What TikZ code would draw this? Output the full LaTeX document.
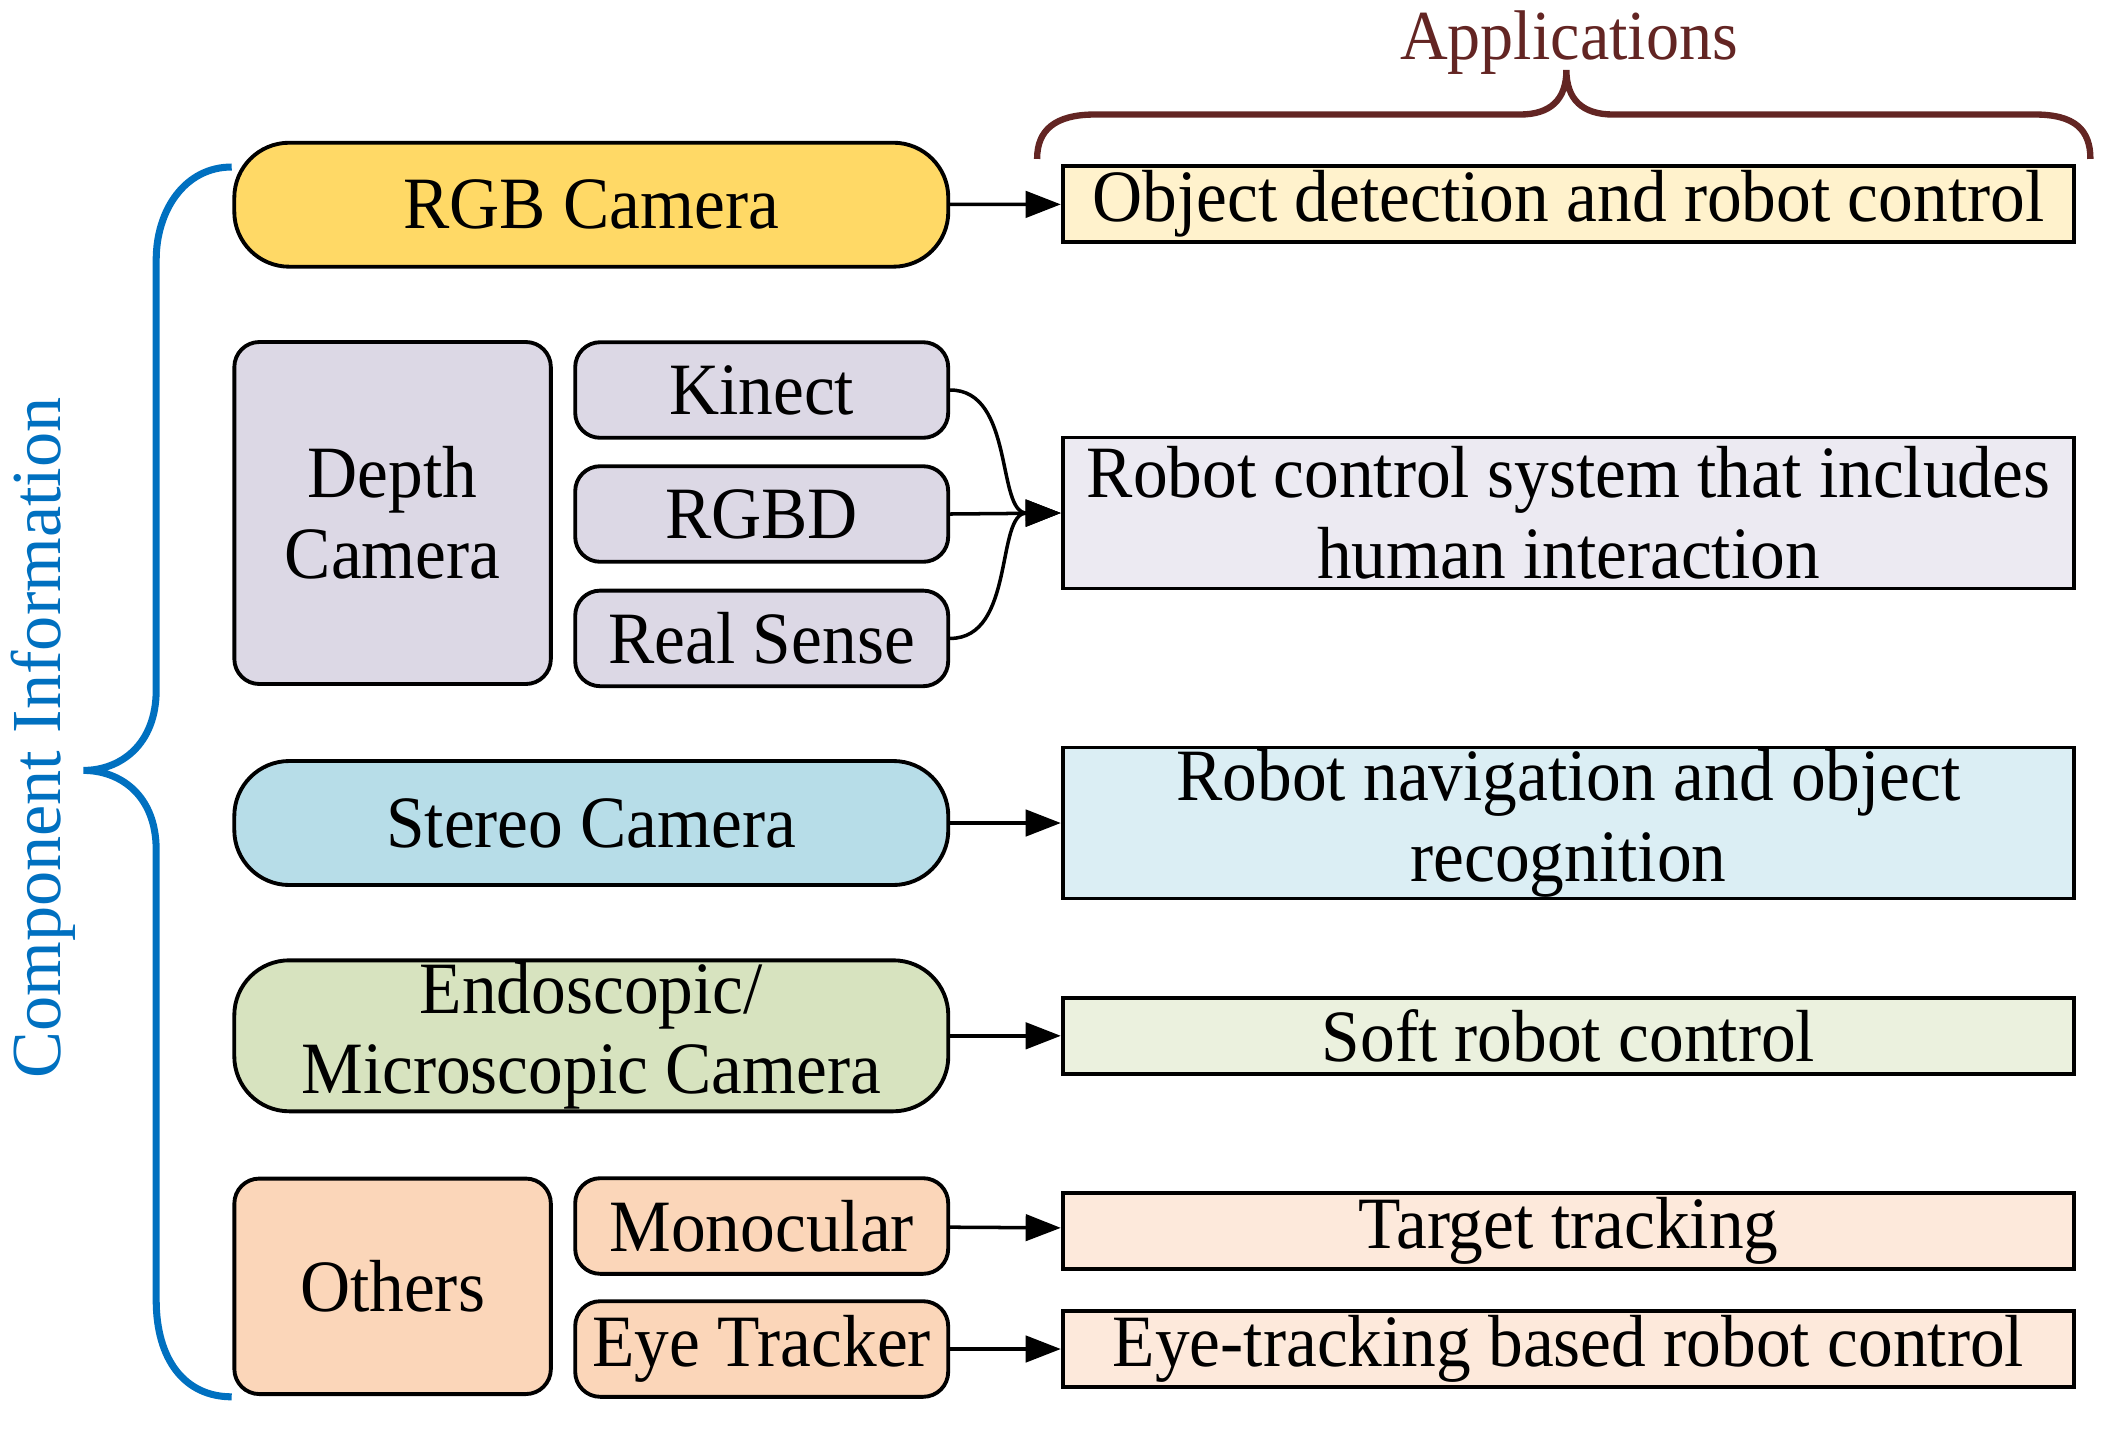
\documentclass[tikz,border=0pt]{standalone}
\usepackage{fontspec}
\setmainfont{Liberation Serif}[FakeStretch=0.94]
\newfontfamily\sidefont{Liberation Serif}
\usetikzlibrary{arrows.meta}

\definecolor{rgbcol}{HTML}{FFD966}
\definecolor{depthcol}{HTML}{DCD8E5}
\definecolor{stereocol}{HTML}{B7DDE8}
\definecolor{endocol}{HTML}{D7E3BF}
\definecolor{othercol}{HTML}{FBD6B9}
\definecolor{objcol}{HTML}{FFF2CC}
\definecolor{hricol}{HTML}{ECEAF2}
\definecolor{navcol}{HTML}{DBEEF4}
\definecolor{softcol}{HTML}{EBF1DE}
\definecolor{trackcol}{HTML}{FDE9DB}
\definecolor{infoblue}{HTML}{0070C0}
\definecolor{appbrown}{HTML}{632523}

\begin{document}
\begin{tikzpicture}[font=\fontsize{21}{23}\selectfont]
    % Define styles
    \tikzset{
        cam/.style={rectangle, rounded corners=0.55cm, draw, line width=1.1pt, minimum width=7.14cm, minimum height=1.24cm, inner sep=0pt, align=center},
        group/.style={rectangle, rounded corners=0.25cm, draw, line width=1.1pt, minimum width=3.165cm, inner sep=0pt, align=center},
        sub/.style={rectangle, rounded corners=0.25cm, draw, line width=1.1pt, minimum width=3.73cm, minimum height=0.956cm, inner sep=0pt},
        app/.style={rectangle, draw, line width=1.1pt, minimum width=10.115cm, minimum height=0.76cm, inner sep=0pt, align=center},
        arrow/.style={-{Triangle[length=10pt,width=7.5pt]}, line width=1pt},
    }
    \useasboundingbox (0,0) rectangle (21.12,-14.28);

    % Component Information
    \node[cam, fill=rgbcol] (rgb) at (5.913,-2.047) {RGB Camera};
    \node[group, fill=depthcol, minimum height=3.42cm] (depth) at (3.926,-5.13) {Depth\\Camera};
    \node[sub, fill=depthcol] (kinect) at (7.617,-3.90) {Kinect};
    \node[sub, fill=depthcol] (rgbd) at (7.617,-5.14) {RGBD};
    \node[sub, fill=depthcol] (realsense) at (7.617,-6.384) {Real Sense};
    \node[cam, fill=stereocol] (stereo) at (5.913,-8.23) {Stereo Camera};
    \node[cam, fill=endocol, minimum height=1.51cm] (endo) at (5.913,-10.358) {Endoscopic/\\Microscopic Camera};
    \node[group, fill=othercol, minimum height=2.155cm] (others) at (3.926,-12.863) {Others};
    \node[sub, fill=othercol] (mono) at (7.617,-12.26) {Monocular};
    \node[sub, fill=othercol] (eye) at (7.617,-13.49) {Eye Tracker};

    \node[text=infoblue, rotate=90, font=\sidefont\fontsize{20}{22}\selectfont] (info) at (0.431,-7.38) {Component Information};
    \draw[infoblue, line width=2pt] (2.317,-1.670) .. controls (1.85,-1.67) and (1.562,-2.1) .. (1.562,-2.6)
        -- (1.562,-6.9) .. controls (1.562,-7.45) and (1.2,-7.704) .. (0.835,-7.704)
        .. controls (1.2,-7.704) and (1.562,-7.95) .. (1.562,-8.5)
        -- (1.562,-13.0) .. controls (1.562,-13.6) and (1.85,-13.968) .. (2.317,-13.968);

    % Applications
    \node[text=appbrown, font=\fontsize{20}{22}\selectfont] (apps) at (15.69,-0.43) {Applications};
    \draw[appbrown, line width=1.8pt] (10.371,-1.589) .. controls (10.371,-1.3) and (10.55,-1.145) .. (10.95,-1.145)
        -- (15.2,-1.145) .. controls (15.5,-1.145) and (15.664,-1.0) .. (15.664,-0.700)
        .. controls (15.664,-1.0) and (15.83,-1.145) .. (16.13,-1.145)
        -- (20.35,-1.145) .. controls (20.75,-1.145) and (20.904,-1.3) .. (20.904,-1.589);

    \node[app, fill=objcol] (objdet) at (15.685,-2.04) {Object detection and robot control};
    \node[app, fill=hricol, minimum height=1.51cm] (hri) at (15.685,-5.13) {Robot control system that includes\\human interaction};
    \node[app, fill=navcol, minimum height=1.51cm] (nav) at (15.685,-8.23) {Robot navigation and object\\recognition};
    \node[app, fill=softcol] (soft) at (15.685,-10.358) {Soft robot control};
    \node[app, fill=trackcol] (track) at (15.685,-12.31) {Target tracking};
    \node[app, fill=trackcol] (eyectrl) at (15.685,-13.49) {Eye-tracking based robot control};

    % Arrows
    \draw[arrow] (rgb) -- (objdet);
    \draw[arrow] (kinect.east) to[out=0, in=180] (hri.west);
    \draw[arrow] (rgbd.east) -- (hri.west);
    \draw[arrow] (realsense.east) to[out=0, in=180] (hri.west);
    \draw[arrow] (stereo) -- (nav);
    \draw[arrow] (endo) -- (soft);
    \draw[arrow] (mono) -- (track);
    \draw[arrow] (eye) -- (eyectrl);
\end{tikzpicture}
\end{document}
